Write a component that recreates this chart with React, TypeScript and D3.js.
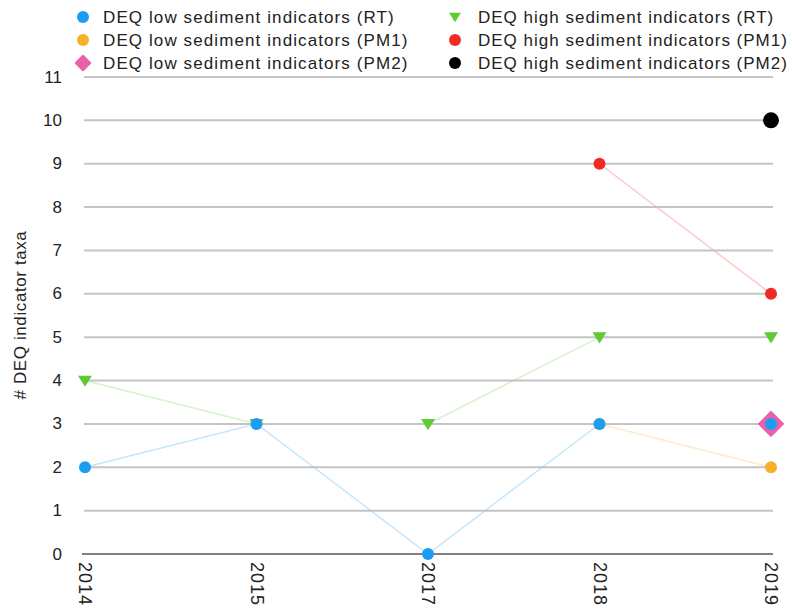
import React from "react";
import * as d3 from "d3";

const years = ["2014", "2015", "2017", "2018", "2019"];
const yTicks = [0, 1, 2, 3, 4, 5, 6, 7, 8, 9, 10, 11];

const lowRT: (number | null)[] = [2, 3, 0, 3, 3];
const lowPM1: (number | null)[] = [null, null, null, 3, 2];
const lowPM2: (number | null)[] = [null, null, null, null, 3];
const highRT: (number | null)[] = [4, 3, 3, 5, 5];
const highPM1: (number | null)[] = [null, null, null, 9, 6];
const highPM2: (number | null)[] = [null, null, null, null, 10];

type Shape = "circle" | "diamond" | "tri";
interface S { name: string; values: (number | null)[]; color: string; shape: Shape; size: number; }

const series: S[] = [
  { name: "DEQ high sediment indicators (RT)", values: highRT, color: "#5ccb35", shape: "tri", size: 7 },
  { name: "DEQ high sediment indicators (PM1)", values: highPM1, color: "#f02b24", shape: "circle", size: 6 },
  { name: "DEQ high sediment indicators (PM2)", values: highPM2, color: "#000000", shape: "circle", size: 8 },
  { name: "DEQ low sediment indicators (PM2)", values: lowPM2, color: "#e860ab", shape: "diamond", size: 12 },
  { name: "DEQ low sediment indicators (PM1)", values: lowPM1, color: "#f6b128", shape: "circle", size: 6 },
  { name: "DEQ low sediment indicators (RT)", values: lowRT, color: "#1c9df3", shape: "circle", size: 6 },
];

const legendCol1 = [series[5], series[4], series[3]];
const legendCol2 = [series[0], series[1], series[2]];

const FONT = "'Liberation Sans', Arial, Helvetica, sans-serif";

function Marker({ s, x, y, scale = 1 }: { s: S; x: number; y: number; scale?: number }) {
  const r = s.size * scale;
  if (s.shape === "circle") return <circle cx={x} cy={y} r={r} fill={s.color} />;
  if (s.shape === "diamond")
    return <path d={`M${x},${y - r}L${x + r},${y}L${x},${y + r}L${x - r},${y}Z`} fill={s.color} strokeLinejoin="round" stroke={s.color} strokeWidth={2} />;
  return <path d={`M${x - r},${y - r * 0.7}L${x + r},${y - r * 0.7}L${x},${y + r * 0.9}Z`} fill={s.color} />;
}

export default function App() {
  const W = 792, H = 609;
  const x = d3.scalePoint<string>().domain(years).range([85, 771]);
  const y = d3.scaleLinear().domain([0, 11]).range([554, 77]);
  const line = d3
    .line<{ yr: string; v: number | null }>()
    .defined((d) => d.v !== null)
    .x((d) => x(d.yr)!)
    .y((d) => y(d.v as number));

  return (
    <div style={{ position: "absolute", left: 0, top: 0 }}>
      <svg width={W} height={H} style={{ display: "block", background: "#fff" }} fontFamily={FONT}>
        {series.map((s) => (
          <path key={s.name + "l"} d={line(years.map((yr, i) => ({ yr, v: s.values[i] }))) || ""} fill="none" stroke={s.color} strokeOpacity={0.25} strokeWidth={1.5} />
        ))}
        {yTicks.filter((t) => t > 0).map((t) => (
          <line key={t} x1={84} x2={773} y1={y(t)} y2={y(t)} stroke="#c4c4c4" strokeWidth={2} />
        ))}
        <line x1={82} x2={773} y1={y(0)} y2={y(0)} stroke="#555" strokeWidth={1.5} />
        {yTicks.map((t) => (
          <text key={t} x={62} y={y(t)} textAnchor="end" dominantBaseline="central" fontSize={17} fill="#222">
            {t}
          </text>
        ))}
        {years.map((yr) => (
          <text key={yr} transform={`translate(${x(yr)},${y(0) + 8}) rotate(90)`} dominantBaseline="central" fontSize={18} letterSpacing={1} fill="#222">
            {yr}
          </text>
        ))}
        <text transform={`translate(20,${315}) rotate(-90)`} textAnchor="middle" dominantBaseline="central" fontSize={17} letterSpacing={0.6} fill="#222">
          # DEQ indicator taxa
        </text>
        {series.map((s) =>
          years.map((yr, i) =>
            s.values[i] === null ? null : <Marker key={s.name + yr} s={s} x={x(yr)!} y={y(s.values[i] as number)} />
          )
        )}
        {legendCol1.map((s, i) => (
          <g key={s.name}>
            <Marker s={s} x={83} y={17 + i * 23} scale={s.shape === "diamond" ? 0.6 : 1} />
            <text x={103} y={17 + i * 23} dominantBaseline="central" fontSize={17} letterSpacing={1.1} fill="#222">{s.name}</text>
          </g>
        ))}
        {legendCol2.map((s, i) => (
          <g key={s.name}>
            <Marker s={s} x={455} y={17 + i * 23} scale={s.shape === "circle" ? 6 / s.size : 0.85} />
            <text x={478} y={17 + i * 23} dominantBaseline="central" fontSize={17} letterSpacing={1} fill="#222">{s.name}</text>
          </g>
        ))}
      </svg>
    </div>
  );
}
